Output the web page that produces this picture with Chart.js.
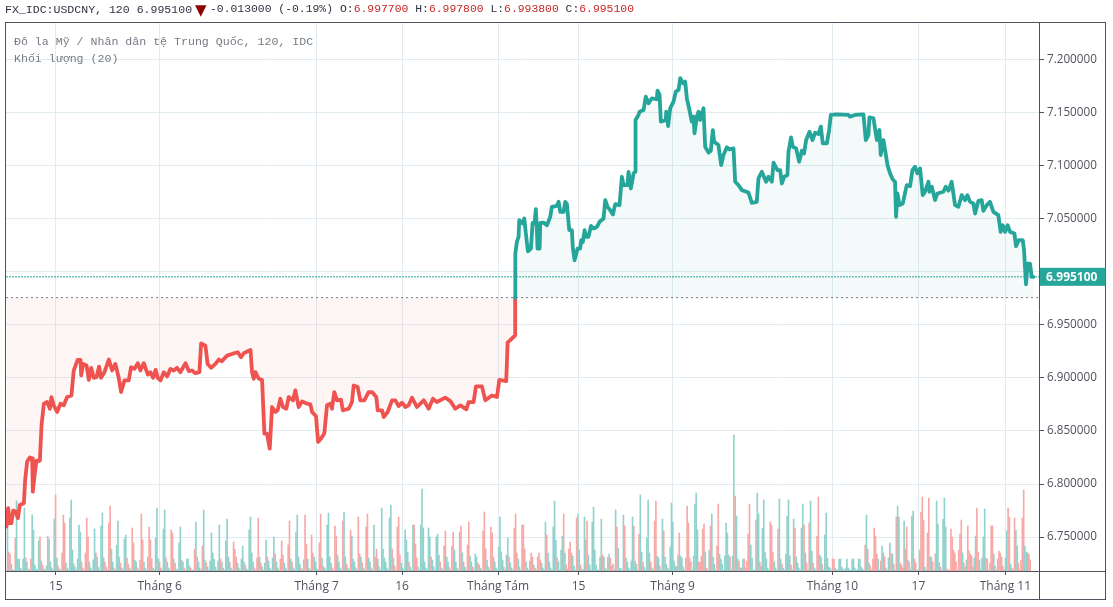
<!DOCTYPE html>
<html lang="vi">
<head>
<meta charset="utf-8">
<title>USDCNY</title>
<script src="https://cdn.jsdelivr.net/npm/chart.js@4"></script>
<style>
  body { margin: 0; background: #fff; }
  #wrap { position: relative; width: 1113px; height: 607px; overflow: hidden; }
  canvas { position: absolute; left: 0; top: 0; }
  .mono { position: absolute; font-family: "Liberation Mono", monospace; font-size: 11.6px; white-space: pre; }
  .head { top: 3px; color: #2f3241; }
  .head b { font-weight: normal; color: #c62828; }
  #arrow { left: 195px; top: 1px; color: #8b0000; font-size: 15px; font-family: "DejaVu Sans"; }
  #ohlc { left: 340px; font-size: 11.4px; }
  #title, #volTitle { left: 14px; color: #787b86; }
  #title { top: 35px; }
  #volTitle { top: 52px; }
</style>
</head>
<body>
<div id="wrap">
  <canvas id="myChart" width="1113" height="607"></canvas>
  <div class="mono head" style="left:5px;font-size:11.55px">FX_IDC:USDCNY, 120 6.995100</div>
  <div class="mono head" id="arrow">▼</div>
  <div class="mono head" style="left:210px;font-size:11.4px">-0.013000 (-0.19%)</div>
  <div class="mono head" id="ohlc">O:<b>6.997700</b> H:<b>6.997800</b> L:<b>6.993800</b> C:<b>6.995100</b></div>
  <div class="mono" id="title">Đô la Mỹ / Nhân dân tệ Trung Quốc, 120, IDC</div>
  <div class="mono" id="volTitle">Khối lượng (20)</div>
</div>
<script>
// Price: bar number + value
const priceBars = [
  -0.8,0.5,1.8,3,4.4,6.2,8,9.5,12.6,13.6,15.1,17.2,19,19.5,21,22.3,24.9,26.2,28,30.5,32.6,33.8,35.6,38.2,40.8,43.3,45.9,49.2,51,54,56.2,56.7,58.2,60.8,62.6,64.4,66.4,68.5,70.5,72,74.6,78,80.5,83,85.6,87.4,90,93.3,95.1,97.7,100.3,102.3,104.9,108,110,112,114,115.6,117.7,120.3,122.8,125.4,128,130.5,133,137,139.5,142,144.6,147.7,149,152.3,154,156.7,160,162.6,165,169,172.8,177.2,179.7,181.8,187,188.2,189.5,190.8,193.3,195.9,197.7,199.7,201.8,203.6,206.2,207.9,
  210,212,214.6,216.4,219.7,221.5,224.1,226.7,230.5,233.1,234.4,237.4,239,241.3,243.8,245.9,248.5,249.7,251.5,253.6,256.7,258,262.6,265.1,266.4,269.5,271.5,274.6,277.9,280.5,283.8,284.9,288.2,289.5,292.6,295.9,298.5,301,303.6,306.2,308.7,311.3,315.1,320.3,324.1,327.4,330.5,336.9,340.8,344.6,348.5,353.1,354.9,358.7,360.5,365.1,367.7,372.8,376.7,378.5,383.8,384.9,386.5,390.7,
  390.7,390.8,392,393.3,393.8,396.6,397.7,399.2,400.5,402.8,404.1,405.6,406.6,407.4,407.9,409.5,410,412.5,415.1,417.7,418.9,422.8,424.1,425.4,427.9,429.2,430.5,432.3,434.3,435.1,436.4,438.7,440.7,441.5,442.8,444.1,445.4,447.1,449,451,453.6,455.6,458.7,460,461.8,463.8,465.9,467.7,471,472.8,474.1,477.1,477.9,479.7,481.8,483,483.3,485.6,486.4,489.5,491.2,493.3,495.9,499.7,500.2,501.8,502.8,506.6,506.9,508.4,510,512.5,514.3,516.4,517.7,519.7,521.5,522.8,524.8,526.6,527.9,528.7,530.5,531.8,533,535.6,536.9,539.5,541.2,542.8,543.8,547.1,549.2,551,553.6,555.6,558.7,560,562.5,565.1,570.2,572.8,576.6,577.9,580.5,583.8,585.6,588.2,589.5,592.5,
  594.6,595.9,597.7,600.2,601,603,604.3,606.9,609.2,611.3,613,614.6,617.2,619.5,621.5,624.1,625.9,627.4,630.5,632.3,633.6,638.2,647.2,648.4,652.3,658.7,660.5,662.5,663.3,666.4,669,671,672,674.1,675.6,677.2,679.2,681.3,683,683.8,684.9,686.4,689,692,694.6,696.4,698.4,700.2,702.3,704.3,706.1,708.7,709.5,711.3,713.8,715.6,720.2,722,724.1,726.6,729.2,731.8,734.3,736.9,738.7,740.8,743.3,744.6,747.2,749.7,751,753.6,756.1,758.7,762.5,764.3,765.9,767.7,769.7,771.5,774.9,776.1,778.2,781.3,782.3,783.8,785.1,786.9,788.2,789.5
];
const priceValues = [
  6.76,6.7772,6.7631,6.7631,6.775,6.7741,6.7678,6.7803,6.7819,6.8038,6.8209,6.825,6.8241,6.7928,6.81,6.8219,6.8219,6.8553,6.8756,6.8772,6.8709,6.8819,6.8741,6.8678,6.8756,6.8741,6.8819,6.8834,6.9069,6.9169,6.9169,6.9022,6.9131,6.9116,6.8981,6.9094,6.9,6.9006,6.9106,6.9,6.9053,6.9172,6.9069,6.9131,6.9,6.8866,6.8975,6.8975,6.91,6.9084,6.9138,6.9069,6.9138,6.9031,6.9053,6.9,6.9075,6.9,6.8975,6.9053,6.9013,6.9084,6.9069,6.9094,6.9053,6.9138,6.9063,6.9069,6.9044,6.9053,6.9325,6.9303,6.9131,6.9094,6.9131,6.9172,6.9156,6.9209,6.9225,6.9241,6.9194,6.9231,6.9263,6.9053,6.8991,6.9053,6.8991,6.8981,6.8475,6.8475,6.8334,6.8725,6.8678,6.8694,
  6.8803,6.8725,6.8709,6.8819,6.8788,6.8881,6.8725,6.8778,6.8756,6.875,6.8678,6.8638,6.8397,6.8428,6.8475,6.8741,6.8756,6.8709,6.8866,6.8788,6.8794,6.8694,6.8709,6.8772,6.8928,6.8913,6.8788,6.8788,6.8866,6.8866,6.8819,6.8694,6.8694,6.8631,6.8678,6.8788,6.8788,6.8734,6.8766,6.8725,6.8741,6.8813,6.8725,6.8788,6.8709,6.8803,6.8772,6.8813,6.8781,6.8709,6.8741,6.8703,6.8772,6.8772,6.8919,6.8919,6.8788,6.8834,6.8819,6.8981,6.8969,6.9334,6.935,6.94,
  6.9755,7.017,7.028,7.0327,7.0484,7.0453,7.05,7.0327,7.0192,7.0217,7.0459,7.0453,7.0588,7.039,7.0217,7.0217,7.0459,7.0462,7.0437,7.0516,7.061,7.062,7.0657,7.0563,7.0563,7.0657,7.0635,7.039,7.039,7.0217,7.0107,7.0217,7.0217,7.0296,7.0280,7.039,7.0327,7.0327,7.0431,7.0406,7.0421,7.0469,7.05,7.0673,7.061,7.0579,7.0538,7.0635,7.0626,7.0893,7.0815,7.0815,7.094,7.0783,7.0925,7.094,7.1428,7.1475,7.1506,7.1522,7.1648,7.1585,7.1632,7.1623,7.1705,7.1664,7.1412,7.1428,7.1506,7.1371,7.1538,7.1601,7.1695,7.1711,7.1821,7.1774,7.179,7.1632,7.1522,7.1412,7.1459,7.1302,7.1459,7.1506,7.1428,7.1538,7.1176,7.112,7.1138,7.1333,7.1223,7.1192,7.1003,7.1098,7.117,7.1151,7.116,7.0846,7.0815,7.0767,7.0745,7.0648,7.0657,7.0877,7.094,7.0846,7.0893,7.0846,7.1025,7.0956,
  7.0956,7.083,7.0893,7.0909,7.1129,7.1264,7.1176,7.116,7.1035,7.1138,7.1113,7.1239,7.1318,7.1239,7.1308,7.1296,7.1365,7.1208,7.1208,7.1333,7.1475,7.1481,7.1475,7.1459,7.1475,7.1481,7.1239,7.1286,7.1453,7.1444,7.1239,7.1333,7.1098,7.1239,7.1129,7.1003,7.0925,7.0868,7.0846,7.0516,7.0736,7.0626,7.0642,7.0815,7.0805,7.0956,7.0988,7.0925,7.0972,7.072,7.0752,7.0846,7.0752,7.0799,7.0673,7.0736,7.0752,7.0799,7.0761,7.0846,7.0626,7.061,7.072,7.0673,7.072,7.0657,7.0642,7.0547,7.0667,7.0673,7.0572,7.0626,7.0657,7.0563,7.0532,7.0374,7.0437,7.0374,7.0437,7.0374,7.0359,7.0239,7.0296,7.0296,7.0201,6.988,7.0075,7.0075,6.995,6.9951
];

// Volume per 2h bar, in chart units; negative = falling bar. One line is about 10 trading days
const volumes = [
  43,-19,-17,7,1,1, -33,70,12,12,3,1, 12,63,-13,9,2,1, -12,56,41,6,2,1, 30,-34,10,-6,2,1, 5,-35,32,9,3,1, 52,-76,13,-5,2,1, -18,-56,-48,8,3,1, 53,71,21,7,4,1, 12,46,39,-9,-3,1,
  -18,-53,-34,9,3,1, 11,42,-18,14,4,1, 45,58,13,-9,-4,1, -48,-65,22,9,-3,1, 26,50,14,-8,3,1, 32,36,-13,-7,3,1, -43,-28,11,9,-3,1, -11,-57,-31,9,3,1, -14,-44,-31,-12,3,1, 33,63,12,-9,-3,1,
  42,61,-13,9,3,1, -41,-38,12,-8,2,1, 28,44,-11,9,-3,1, 12,12,5,-3,1,1, -22,49,-14,9,3,1, -25,61,11,-8,4,1, 10,38,18,12,4,1, 10,46,-12,9,3,1, 30,52,14,-9,3,1, -29,-22,-14,8,3,1,
  12,25,9,-6,2,1, 41,54,18,9,-3,1, -13,-53,14,-8,4,1, 8,31,-14,10,3,1, 13,34,-17,9,3,1, -12,-30,-16,8,3,1, -26,-50,12,-9,3,1, 39,56,14,7,-3,1, 11,-56,-27,12,3,1, -36,-18,14,9,2,1,
  -28,-57,13,-5,3,1, 46,58,14,8,-3,1, -45,-35,16,9,3,1, -50,59,14,-7,3,1, -41,35,12,9,3,1, -54,-17,14,-8,3,1, -44,-57,13,9,-3,1, 46,-14,-22,12,4,1, 63,22,13,9,3,1, 53,66,-22,13,-5,1,
  -44,-54,-16,8,3,1, 41,31,19,-9,4,1, 46,-46,-27,-13,4,1, 46,82,43,9,3,1, 43,34,-14,11,4,1, 34,37,16,-9,3,1, -25,-40,14,9,-4,1, -25,-39,21,9,3,1, 39,-45,18,-9,4,1, -26,-49,15,9,-4,1,
  17,14,-8,-6,3,1, -40,-59,-22,11,4,1, -44,-38,-14,9,3,1, 24,54,19,11,-4,1, 16,33,-14,8,3,1, -43,-57,-18,12,4,1, -46,-46,-22,9,3,1, 10,-18,-14,6,-3,1, -14,-18,-11,8,3,1, 49,-36,18,9,3,1,
  44,70,31,-13,9,1, 21,35,-57,18,-6,2, -22,-29,-18,15,5,1, -53,57,21,-6,2,1, 54,-31,-50,16,6,1, 49,64,21,6,1,1, 14,52,-16,14,3,1, -14,17,-13,-5,-7,1, 61,-44,23,2,3,1, 56,-45,13,9,3,1,
  10,54,-45,10,7,1, -37,76,19,-9,4,1, 33,71,18,-9,3,1, -50,-70,15,13,-5,1, 52,-40,14,7,3,1, 24,68,49,10,5,4, 16,-38,15,13,4,1, -13,-65,-48,-13,-9,1, 15,67,78,41,-9,-9, -15,-42,-47,19,-3,1,
  21,-45,57,14,7,1, -25,-67,17,12,7,1, 15,48,38,16,-14,1, 15,136,-75,55,12,-10, 3,-3,12,-12,-3, -10,-37,-67,26,13,1, 1,-51,78,57,-9,-5, 43,71,19,12,3,1, -49,-46,-19,9,3,1, -42,72,12,-7,3,1,
  17,55,71,15,-6,1, 52,-43,14,8,3,1, 43,67,-46,18,-8,1, -48,70,20,-8,3,1, -35,-74,16,14,-7,1, 36,58,13,4,3,1, -12,-12,3,1,1, 12,12,4,2,1, 3,12,3,1,1, 12,12,3,1,1,
  12,12,4,2,1, -26,56,-22,8,-5,1, -12,-43,-35,-17,12,1, -10,25,18,-14,3,1, 13,28,-18,17,-7,1, -54,65,54,-8,-6,-3, 50,-22,-44,11,-9,1, 55,60,-12,-8,1,1, 21,-59,-74,-51,4,1, -38,-73,14,14,-9,1,
  -17,70,47,8,-4,1, 52,73,44,-2,-1,1, -42,-34,-21,-18,-9,1, -21,-37,-51,18,-8,-4, 11,-45,-20,-17,-15,-4, 13,35,-63,-19,11,1, 13,34,62,-13,-12,1, -8,-45,-45,17,5,1, -12,-20,-18,-14,-5,1, 13,40,-63,-54,7,-3,
  1,-53,41,25,-8,1, -11,-53,-81,25,19,18, -17,-11
];

// Axes
const xTickBars = [37.15, 117.15, 237.9, 303.6, 377.5, 439.5, 511.8, 634.8, 701, 767.9];
const xTickLabels = ["15", "Tháng 6", "Tháng 7", "16", "Tháng Tám", "15", "Tháng 9", "Tháng 10", "17", "Tháng 11"];
const yTicks = [6.75, 6.8, 6.85, 6.9, 6.95, 7, 7.05, 7.1, 7.15, 7.2];
const yTickLabels = ["6.750000", "6.800000", "6.850000", "6.900000", "6.950000", "", "7.050000", "7.100000", "7.150000", "7.200000"];

const lastPrice = 6.9951;
const basePrice = 6.9755;

const GREEN = "#26a69a";
const RED = "#ef5350";
const FRAME = "#50535e";
const X_MIN = -1.15;
const X_MAX = 793.8;

const pricePoints = priceBars.map((bar, i) => ({ x: bar, y: priceValues[i] }));
const volumePoints = volumes.map((v, i) => ({ x: i, y: Math.abs(v) }));
const hLine = (value) => [{ x: X_MIN, y: value }, { x: X_MAX, y: value }];

// Frame of the panes and the box with the last price
const framePlugin = {
  id: "frame",
  afterDraw(chart) {
    const { ctx, chartArea: a, scales } = chart;
    const outerRight = chart.width - 7.5;
    const outerBottom = chart.height - 7.5;
    ctx.save();
    ctx.strokeStyle = FRAME;
    ctx.lineWidth = 1;
    ctx.strokeRect(a.left - 0.5, a.top - 0.5, outerRight - a.left + 0.5, outerBottom - a.top + 0.5);
    ctx.beginPath();
    ctx.moveTo(a.right + 0.5, a.top);
    ctx.lineTo(a.right + 0.5, outerBottom);
    ctx.moveTo(a.left, a.bottom + 0.5);
    ctx.lineTo(outerRight, a.bottom + 0.5);
    ctx.stroke();

    const y = scales.y.getPixelForValue(lastPrice);
    ctx.fillStyle = GREEN;
    ctx.fillRect(a.right + 1, y - 9, outerRight - a.right - 1, 18);
    ctx.fillStyle = "#fff";
    ctx.font = 'bold 12px "Open Sans"';
    ctx.textBaseline = "middle";
    ctx.fillText(lastPrice.toFixed(6), a.right + 7, y + 0.5);
    ctx.restore();
  }
};

const ctx = document.getElementById("myChart").getContext("2d");
new Chart(ctx, {
  data: {
    datasets: [
      {
        type: "line",
        data: pricePoints,
        order: 0,
        borderWidth: 3.8,
        pointRadius: 0,
        borderJoinStyle: "round",
        borderCapStyle: "round",
        borderColor: GREEN,
        segment: {
          borderColor: (c) => (c.p1.parsed.y > basePrice ? GREEN : RED)
        },
        fill: {
          target: { value: basePrice },
          above: "rgba(38,166,154,0.05)",
          below: "rgba(239,83,80,0.06)"
        }
      },
      {
        type: "line",
        data: hLine(lastPrice),
        order: 1,
        borderColor: GREEN,
        borderWidth: 1,
        borderDash: [2, 1],
        pointRadius: 0
      },
      {
        type: "line",
        data: hLine(basePrice),
        order: 1,
        borderColor: "#787b86",
        borderWidth: 1,
        borderDash: [2, 3],
        pointRadius: 0
      },
      {
        type: "bar",
        data: volumePoints,
        yAxisID: "vol",
        order: 2,
        barThickness: 1,
        backgroundColor: volumes.map((v) => (v < 0 ? "#f7a9a7" : "#92d2cc"))
      }
    ]
  },
  options: {
    responsive: false,
    animation: false,
    events: [],
    layout: { padding: { left: 6, top: 23, right: 8, bottom: 8 } },
    plugins: { legend: { display: false }, tooltip: { enabled: false } },
    scales: {
      x: {
        type: "linear",
        offset: false,
        min: X_MIN,
        max: X_MAX,
        afterBuildTicks: (scale) => { scale.ticks = xTickBars.map((value) => ({ value })); },
        afterFit: (scale) => { scale.height = 28; },
        border: { display: false },
        grid: { offset: false, color: "#e1ecf2", tickColor: FRAME, tickLength: 4 },
        ticks: {
          autoSkip: false,
          maxRotation: 0,
          padding: 4,
          color: "#50535e",
          font: { family: "Open Sans", size: 12 },
          callback: (v, i) => xTickLabels[i]
        }
      },
      y: {
        position: "right",
        min: 6.7181,
        max: 7.2341,
        afterBuildTicks: (scale) => { scale.ticks = yTicks.map((value) => ({ value })); },
        afterFit: (scale) => { scale.width = 66; },
        border: { display: false },
        grid: { color: "#e1ecf2", tickColor: FRAME, tickLength: 5 },
        ticks: {
          padding: 3,
          color: "#50535e",
          font: { family: "Open Sans", size: 11.7 },
          callback: (v, i) => yTickLabels[i]
        }
      },
      vol: { display: false, min: 0, max: 548 }
    }
  },
  plugins: [framePlugin]
});
</script>
</body>
</html>
